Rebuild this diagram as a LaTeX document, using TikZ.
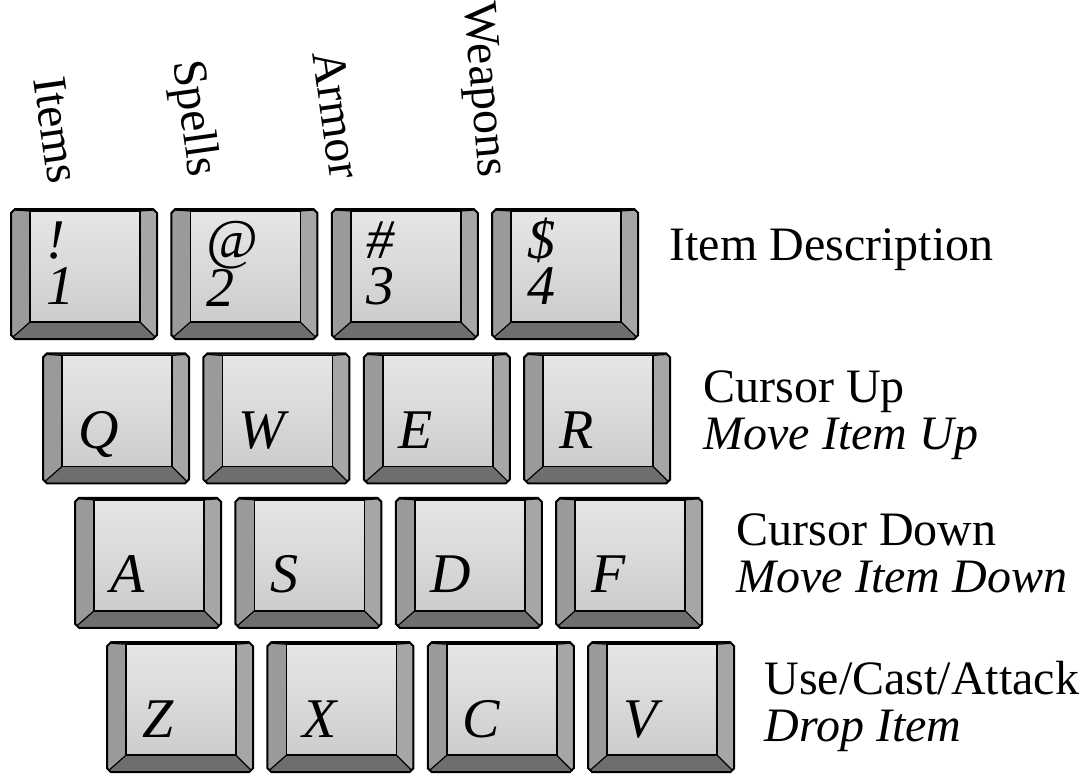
\documentclass[tikz,border=0pt]{standalone}
\usepackage{fontspec}
\setmainfont{Liberation Serif}
\usetikzlibrary{positioning}
\usetikzlibrary{backgrounds}
\definecolor{facetop}{HTML}{E6E6E6}
\definecolor{facebottom}{HTML}{CDCDCD}
\definecolor{sidegray}{HTML}{9A9A9A}
\definecolor{rightgray}{HTML}{A6A6A6}
\definecolor{frontgray}{HTML}{6E6E6E}
\newcommand{\keyfont}{\fontsize{56}{46}\selectfont\itshape}
\newcommand{\legendfont}{\fontsize{48}{47}\selectfont}
% bevelled key, drawn round the key centre
\newcommand{\capshape}{%
    \fill[sidegray] (-73,61) -- (-69,65) -- (69,65) -- (73,61) -- (73,-61) -- (69,-65) -- (-69,-65) -- (-73,-61) -- cycle;
    \fill[rightgray] (56,63) -- (72,63) -- (72,-62) -- (56,-48) -- cycle;
    \fill[frontgray] (-54,-48) -- (56,-48) -- (71,-64) -- (-71,-64) -- cycle;
    \fill[black!70] (-70,65) -- (70,65) -- (56,63) -- (-54,63) -- cycle;
    \shade[top color=facetop, bottom color=facebottom] (-54,63) rectangle (56,-48);
    \draw[line width=1.5pt] (-54,63) rectangle (56,-48);
    \draw[line width=1.2pt] (-54,-48) -- (-71,-63) (56,-48) -- (71,-63)
        (-54,63) -- (-70,64) (56,63) -- (70,64);
    \draw[line width=2pt] (-73,61) -- (-69,65) -- (69,65) -- (73,61) -- (73,-61) -- (69,-65) -- (-69,-65) -- (-73,-61) -- cycle;
}
\tikzset{keycap/.style={%
        rectangle,
        minimum width=148pt,
        minimum height=132pt,
        inner sep=0pt,
        text width=76pt,
        align=left,
        text height=60pt,
        text depth=0pt,
        font=\keyfont
    },
    numkey/.style={keycap,
        text height=0pt,
        text depth=32pt
    },
    legend/.style={font=\legendfont, inner sep=0pt, align=left, anchor=base west},
    heading/.style={font=\legendfont, inner sep=0pt, anchor=east}}

\begin{document}
\begin{tikzpicture}[x=1pt, y=1pt]
    \useasboundingbox (0,0) rectangle (1081,-774);
    % number row
    \node [numkey] (K1) at (84,-274) {!\\1};
    \node [numkey] (K2) [right=12pt of K1] {@\\2};
    \node [numkey] (K3) [right=12pt of K2] {\#\\3};
    \node [numkey] (K4) [right=12pt of K3] {\$\\4};
    % letter rows
    \node [keycap] (Q) [below=12pt of K1, xshift=32pt] {Q};
    \node [keycap] (W) [right=12pt of Q] {W};
    \node [keycap] (E) [right=12pt of W] {E};
    \node [keycap] (R) [right=12pt of E] {R};
    \node [keycap] (A) [below=12pt of Q, xshift=32pt] {A};
    \node [keycap] (S) [right=12pt of A] {S};
    \node [keycap] (D) [right=12pt of S] {D};
    \node [keycap] (F) [right=12pt of D] {F};
    \node [keycap] (Z) [below=12pt of A, xshift=32pt] {Z};
    \node [keycap] (X) [right=12pt of Z] {X};
    \node [keycap] (C) [right=12pt of X] {C};
    \node [keycap] (V) [right=12pt of C] {V};
    % key bodies behind the letters
    \begin{scope}[on background layer]
        \foreach \k in {K1,K2,K3,K4,Q,W,E,R,A,S,D,F,Z,X,C,V}
            \begin{scope}[shift={(\k.center)}]\capshape\end{scope};
    \end{scope}
    % column headings
    \node [heading, rotate=-82] (items) at (64,-183) {Items};
    \node [heading, rotate=-82] (spells) at (201,-177) {Spells};
    \node [heading, rotate=-82] (armor) at (346,-178) {Armor};
    \node [heading, rotate=-85] (weapons) at (490,-177) {Weapons};
    % row legends
    \node [legend] (descr) at ([xshift=30pt, yshift=14pt]K4.east) {Item Description};
    \node [legend] (up) at ([xshift=32pt, yshift=-31pt]R.east) {Cursor Up\\\textit{Move Item Up}};
    \node [legend] (down) at ([xshift=33pt, yshift=-30pt]F.east) {Cursor Down\\\textit{Move Item Down}};
    \node [legend] (use) at ([xshift=29pt, yshift=-34pt]V.east) {Use/Cast/Attack\\\textit{Drop Item}};
\end{tikzpicture}
\end{document}
